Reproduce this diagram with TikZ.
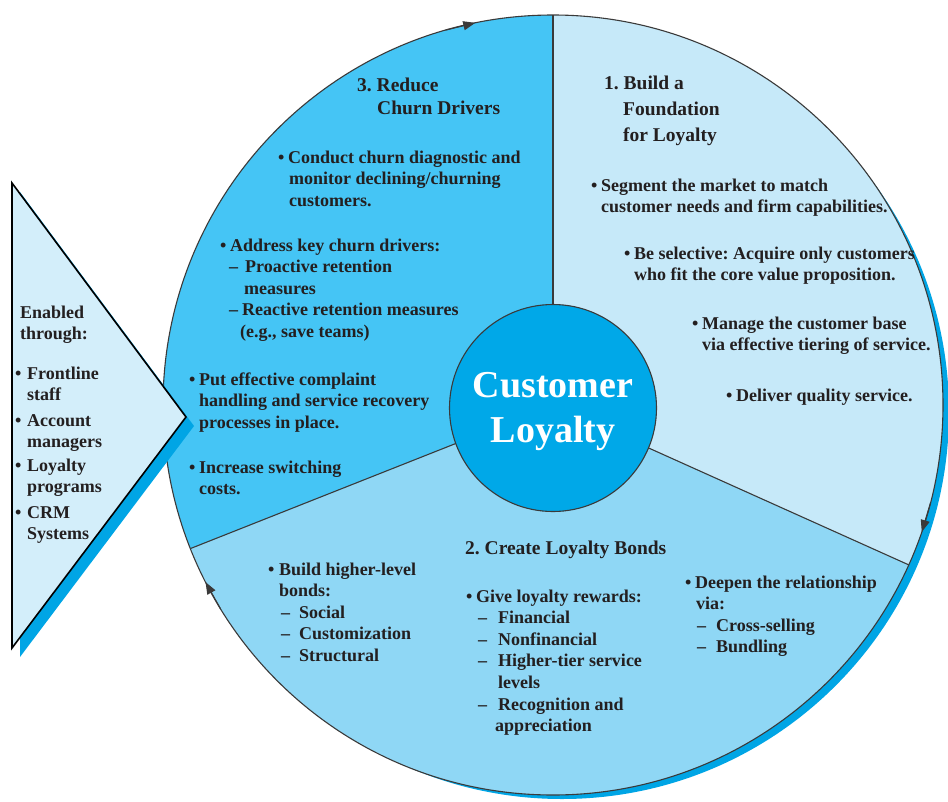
\documentclass[tikz,border=0pt]{standalone}
\usepackage{fontspec}
\setmainfont{Liberation Serif}
\usetikzlibrary{arrows.meta}
\definecolor{secA}{HTML}{C6E9F9}
\definecolor{secB}{HTML}{8FD7F5}
\definecolor{secC}{HTML}{45C5F5}
\definecolor{core}{HTML}{00A8E8}
\definecolor{shadowblue}{HTML}{00A5E5}
\definecolor{tri}{HTML}{D3EEFA}
\definecolor{edge}{HTML}{3A3A3A}
\definecolor{ink}{HTML}{231F20}
\newcommand\mk[2]{\makebox[#1pt][l]{#2}}
\newcommand\lines[1]{\begin{tabular}[t]{@{}l@{}}#1\end{tabular}}
\newcommand\clines[1]{\begin{tabular}[t]{@{}c@{}}#1\end{tabular}}
\frenchspacing
\begin{document}
\begin{tikzpicture}[x=1pt,y=-1pt,
  body/.style={anchor=base west, inner sep=0pt, text=ink,
    font=\fontsize{18}{21.6}\selectfont\bfseries},
  head/.style={body, font=\fontsize{19.5}{23}\selectfont\bfseries},
  rim/.style={draw=edge, line width=1.1pt},
  tip/.style={draw=edge, line width=1.1pt, -{Triangle[length=12pt,width=9pt]}, fill=edge}]
\useasboundingbox (0,0) rectangle (948,801);
% --- wheel ---
\coordinate (O) at (553,405);
\fill[shadowblue] (562,412) circle[radius=387];
\fill[secA] (O) -- ([shift={(-90:390)}]O) arc[start angle=-90, end angle=24.2, radius=390] -- cycle;
\fill[secB] (O) -- ([shift={(24.2:390)}]O) arc[start angle=24.2, end angle=158.4, radius=390] -- cycle;
\fill[secC] (O) -- ([shift={(158.4:390)}]O) arc[start angle=158.4, end angle=270, radius=390] -- cycle;
\coordinate (pTop) at ([shift={(-90:390)}]O);
\coordinate (pRight) at ([shift={(24.2:390)}]O);
\coordinate (pLeft) at ([shift={(158.4:390)}]O);
\draw[rim] (O) -- (pTop);
\draw[rim] (O) -- (pRight);
\draw[rim] (O) -- (pLeft);
\draw[rim] (O) circle[radius=390];
\coordinate (aT1) at ([shift={(254:390)}]O);
\coordinate (aT2) at ([shift={(258.5:390)}]O);
\coordinate (aR1) at ([shift={(14.5:390)}]O);
\coordinate (aR2) at ([shift={(19:390)}]O);
\coordinate (aL1) at ([shift={(148.5:390)}]O);
\coordinate (aL2) at ([shift={(153:390)}]O);
\draw[tip] (aT1) -- (aT2);
\draw[tip] (aR1) -- (aR2);
\draw[tip] (aL1) -- (aL2);
\node[circle, fill=core, draw=edge, line width=1.1pt, minimum size=207pt, inner sep=0pt] (hub) at (553,408) {};
\node[anchor=base, inner sep=0pt, text=white,
  font=\fontsize{38}{45}\selectfont\bfseries] (hublbl) at (553,397) {\clines{Customer\\Loyalty}};
% --- left triangle ---
\coordinate (t1) at (12,183);
\coordinate (t2) at (12,648);
\coordinate (t3) at (186,417);
\fill[shadowblue] ([shift={(8,9)}]t1) -- ([shift={(8,9)}]t2) -- ([shift={(8,9)}]t3) -- cycle;
\filldraw[fill=tri, draw=black, line width=1.6pt, line join=miter] (t1) -- (t2) -- (t3) -- cycle;
\node[body] (en) at (20,318) {\lines{Enabled\\through:}};
\node[body] (e1) at (15,379) {\lines{\mk{12}{\textbullet}Frontline\\\hspace*{12pt}staff}};
\node[body] (e2) at (15,426) {\lines{\mk{12}{\textbullet}Account\\\hspace*{12pt}managers}};
\node[body] (e3) at (15,471) {\lines{\mk{12}{\textbullet}Loyalty\\\hspace*{12pt}programs}};
\node[body] (e4) at (15,518) {\lines{\mk{12}{\textbullet}CRM\\\hspace*{12pt}Systems}};
% --- sector 3 ---
\node[head] (h3) at (357,91) {\lines{3. Reduce\\\hspace*{20pt}Churn Drivers}};
\node[body] (c1) at (278,163) {\lines{\mk{10}{\textbullet}Conduct churn diagnostic and\\\hspace*{11pt}monitor declining/churning\\\hspace*{11pt}customers.}};
\node[body] (c2) at (220,251) {\lines{\mk{10}{\textbullet}Address key churn drivers:\\\hspace*{9pt}\mk{16}{--}Proactive retention\\\hspace*{24pt}measures\\\hspace*{9pt}\mk{13}{--}Reactive retention measures\\\hspace*{20pt}(e.g., save teams)}};
\node[body] (c3) at (189,385) {\lines{\mk{10}{\textbullet}Put effective complaint\\\hspace*{10pt}handling and service recovery\\\hspace*{10pt}processes in place.}};
\node[body] (c4) at (189,473) {\lines{\mk{10}{\textbullet}Increase switching\\\hspace*{10pt}costs.}};
% --- sector 1 ---
\node[head, font=\fontsize{19.5}{26}\selectfont\bfseries] (h1) at (604,89) {\lines{1. Build a\\\hspace*{19pt}Foundation\\\hspace*{19pt}for Loyalty}};
\node[body] (a1) at (591,191) {\lines{\mk{10}{\textbullet}Segment the market to match\\\hspace*{10pt}customer needs and firm capabilities.}};
\node[body] (a2) at (624,259) {\lines{\mk{10}{\textbullet}Be selective: Acquire only customers\\\hspace*{10pt}who fit the core value proposition.}};
\node[body] (a3) at (692,329) {\lines{\mk{10}{\textbullet}Manage the customer base\\\hspace*{10pt}via effective tiering of service.}};
\node[body] (a4) at (726,401) {\lines{\mk{10}{\textbullet}Deliver quality service.}};
% --- sector 2 ---
\node[head] (h2) at (465,554) {2. Create Loyalty Bonds};
\node[body] (d1) at (268,575) {\lines{\mk{11}{\textbullet}Build higher-level\\\hspace*{11pt}bonds:\\\hspace*{13pt}\mk{18}{--}Social\\\hspace*{13pt}\mk{18}{--}Customization\\\hspace*{13pt}\mk{18}{--}Structural}};
\node[body] (d2) at (466,602) {\lines{\mk{10}{\textbullet}Give loyalty rewards:\\\hspace*{12pt}\mk{20}{--}Financial\\\hspace*{12pt}\mk{20}{--}Nonfinancial\\\hspace*{12pt}\mk{20}{--}Higher-tier service\\\hspace*{32pt}levels\\\hspace*{12pt}\mk{20}{--}Recognition and\\\hspace*{29pt}appreciation}};
\node[body] (d3) at (685,588) {\lines{\mk{10}{\textbullet}Deepen the relationship\\\hspace*{11pt}via:\\\hspace*{12pt}\mk{19}{--}Cross-selling\\\hspace*{12pt}\mk{19}{--}Bundling}};
\end{tikzpicture}
\end{document}
